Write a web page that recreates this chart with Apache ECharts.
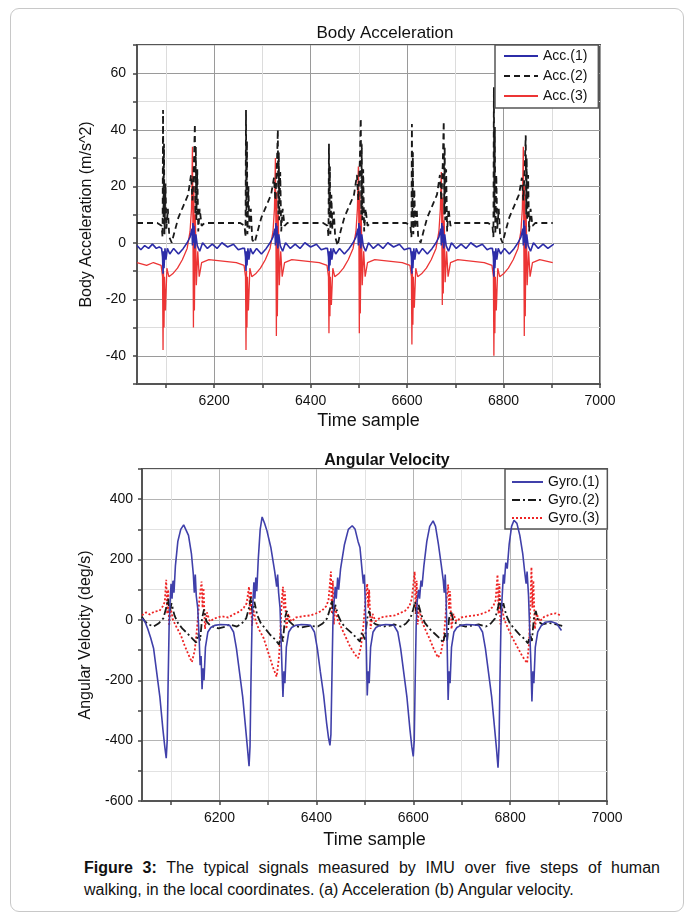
<!DOCTYPE html>
<html>
<head>
<meta charset="utf-8">
<script src="https://cdn.jsdelivr.net/npm/echarts@6/dist/echarts.min.js"></script>
<style>
  html, body { margin: 0; padding: 0; background: #fff; }
  body { width: 694px; height: 918px; position: relative; overflow: hidden; font-family: "Liberation Sans", Arial, sans-serif; }
  #frame { position: absolute; left: 10px; top: 8px; width: 672px; height: 902px; border: 1px solid #c8c8c8; border-radius: 9px; }
  #chart { position: absolute; left: 0; top: 0; width: 694px; height: 850px; }
  .cap { position: absolute; left: 84px; width: 576px; font-size: 16px; line-height: 22px; color: #111; }
  #cap1 { top: 857px; text-align: justify; text-align-last: justify; }
  #cap2 { top: 879px; }
</style>
</head>
<body>
<div id="frame"></div>
<div id="chart"></div>
<div class="cap" id="cap1"><b>Figure 3:</b> The typical signals measured by IMU over five steps of human</div>
<div class="cap" id="cap2">walking, in the local coordinates. (a) Acceleration (b) Angular velocity.</div>
<script>
// 横轴刻度
const xTickValues = [6100, 6200, 6300, 6400, 6500, 6600, 6700, 6800, 6900, 7000];
const xLabelValues = [6200, 6400, 6600, 6800, 7000];

// (a) 加速度 [样本, m/s^2]
const acc1 = [
  [6040,-1],[6048,-2.5],[6056,-1],[6064,-2],[6072,-0.5],[6080,-2],[6086,-1.5],[6091,-2],[6093,-5],[6094,-11],[6095,-3],[6096,-9],[6098,-2],[6100,-6],[6103,-2],[6108,-4],[6116,-2],[6126,-4],[6136,-2],[6144,0],[6150,2],[6154,5],[6155,-1],[6156,7],[6157,0],[6158,6],[6160,-2],[6162,3],[6165,-1],[6170,-3],[6176,0],[6186,-2],[6196,-0.5],[6206,-2],[6216,0],[6228,-1.5],[6240,-0.5],[6250,-2.5],
  [6258,-2],[6263,-2],[6265,-5],[6266,-10],[6267,-3],[6268,-8],[6270,-2],[6272,-6],[6275,-2],[6280,-4],[6288,-2],[6298,-4],[6308,-2],[6316,0],[6322,2],[6326,5],[6327,-1],[6328,7],[6329,0],[6330,6],[6332,-2],[6334,3],[6337,-1],[6342,-3],[6348,0],[6358,-2],[6368,-0.5],[6378,-2],[6388,0],[6400,-1.5],[6412,-0.5],[6422,-2.5],
  [6430,-2],[6435,-2],[6437,-5],[6438,-10],[6439,-3],[6440,-8],[6442,-2],[6444,-6],[6447,-2],[6452,-4],[6460,-2],[6470,-4],[6480,-2],[6488,0],[6494,2],[6498,5],[6499,-1],[6500,7],[6501,0],[6502,6],[6504,-2],[6506,3],[6509,-1],[6514,-3],[6520,0],[6530,-2],[6540,-0.5],[6550,-2],[6560,0],[6572,-1.5],[6584,-0.5],[6594,-2.5],
  [6602,-2],[6607,-2],[6609,-5],[6610,-11],[6611,-3],[6612,-9],[6614,-2],[6616,-6],[6619,-2],[6624,-4],[6632,-2],[6642,-4],[6652,-2],[6660,0],[6666,2],[6670,5],[6671,-1],[6672,7],[6673,0],[6674,6],[6676,-2],[6678,3],[6681,-1],[6686,-3],[6692,0],[6702,-2],[6712,-0.5],[6722,-2],[6732,0],[6744,-1.5],[6756,-0.5],[6766,-2.5],
  [6772,-2],[6777,-2],[6779,-5],[6780,-12],[6781,-3],[6782,-9],[6784,-2],[6786,-6],[6789,-2],[6794,-4],[6802,-2],[6812,-4],[6822,-2],[6830,0],[6836,2],[6840,5],[6841,-1],[6842,8],[6843,0],[6844,6],[6846,-2],[6848,3],[6851,-1],[6856,-3],[6862,0],[6872,-2],[6882,-0.5],[6892,-2],[6904,-0.5]
];
const acc2 = [
  [6040,7],[6082,7],[6091,6],[6093,2],[6094,47],[6095,9],[6096,35],[6097,3],[6099,21],[6101,5],[6104,12],[6107,2],[6112,0],[6118,4],[6126,9],[6136,13],[6146,17],[6152,24],[6155,15],[6158,28],[6160,42],[6161,10],[6162,34],[6163,8],[6165,26],[6167,4],[6170,12],[6174,6],[6180,7],
  [6254,7],[6263,6],[6265,2],[6266,47],[6267,9],[6268,36],[6269,3],[6271,20],[6273,5],[6276,12],[6279,1],[6284,0],[6290,4],[6298,9],[6308,13],[6318,17],[6324,23],[6327,15],[6330,27],[6332,40],[6333,10],[6334,32],[6335,8],[6337,25],[6339,4],[6342,12],[6346,6],[6352,7],
  [6426,7],[6435,6],[6437,2],[6438,35],[6439,9],[6440,27],[6441,3],[6443,17],[6445,5],[6448,11],[6451,2],[6456,-1],[6462,4],[6470,9],[6480,13],[6490,17],[6496,24],[6499,15],[6502,29],[6504,44],[6505,10],[6506,35],[6507,8],[6509,26],[6511,4],[6514,12],[6518,6],[6524,7],
  [6598,7],[6607,6],[6609,2],[6610,42],[6611,9],[6612,32],[6613,3],[6615,19],[6617,5],[6620,12],[6623,2],[6628,0],[6634,4],[6642,9],[6652,13],[6662,17],[6668,24],[6671,15],[6674,28],[6676,43],[6677,10],[6678,34],[6679,8],[6681,26],[6683,4],[6686,12],[6690,6],[6696,7],
  [6768,7],[6777,6],[6779,2],[6780,55],[6781,9],[6782,41],[6783,3],[6785,24],[6787,5],[6790,12],[6793,2],[6798,0],[6804,4],[6812,9],[6822,13],[6832,17],[6838,23],[6841,15],[6844,27],[6846,38],[6847,10],[6848,30],[6849,8],[6851,24],[6853,4],[6856,12],[6860,6],[6866,7],[6902,7]
];
const acc3 = [
  [6040,-7],[6060,-8],[6074,-7],[6090,-8],[6093,-12],[6094,-38],[6095,-10],[6096,-30],[6097,-12],[6099,-24],[6102,-9],[6106,-12],[6114,-11],[6124,-9],[6134,-6],[6144,-2],[6150,4],[6153,12],[6155,34],[6156,5],[6157,-30],[6158,20],[6159,-24],[6161,10],[6163,-15],[6166,-3],[6169,-12],[6174,-7],[6189,-6],
  [6246,-7],[6262,-8],[6265,-12],[6266,-38],[6267,-10],[6268,-30],[6269,-12],[6271,-24],[6274,-9],[6278,-12],[6286,-11],[6296,-9],[6306,-6],[6316,-2],[6322,4],[6325,12],[6327,30],[6328,5],[6329,-33],[6330,18],[6331,-26],[6333,10],[6335,-15],[6338,-3],[6341,-12],[6346,-7],[6361,-6],
  [6418,-7],[6434,-8],[6437,-12],[6438,-32],[6439,-10],[6440,-26],[6441,-12],[6443,-22],[6446,-9],[6450,-12],[6458,-11],[6468,-9],[6478,-6],[6488,-2],[6494,4],[6497,12],[6499,27],[6500,5],[6501,-32],[6502,18],[6503,-25],[6505,10],[6507,-15],[6510,-3],[6513,-12],[6518,-7],[6533,-6],
  [6590,-7],[6606,-8],[6609,-12],[6610,-36],[6611,-10],[6612,-29],[6613,-12],[6615,-23],[6618,-9],[6622,-12],[6630,-11],[6640,-9],[6650,-6],[6660,-2],[6666,4],[6669,12],[6671,25],[6672,5],[6673,-22],[6674,16],[6675,-18],[6677,8],[6679,-14],[6682,-3],[6685,-12],[6690,-7],[6705,-6],
  [6760,-7],[6776,-8],[6779,-12],[6780,-40],[6781,-10],[6782,-32],[6783,-12],[6785,-24],[6788,-9],[6792,-12],[6800,-11],[6810,-9],[6820,-6],[6830,-2],[6836,4],[6839,12],[6841,34],[6842,5],[6843,-33],[6844,20],[6845,-26],[6847,10],[6849,-15],[6852,-3],[6855,-12],[6860,-7],[6875,-6],[6902,-7]
];

// (b) 角速度 [样本, deg/s]
const gyro1 = [
  [6040,5],[6046,-5],[6052,-30],[6058,-60],[6064,-95],[6070,-170],[6077,-257],[6083,-360],[6087,-420],[6090,-458],[6092,-400],[6094,-200],[6096,-20],[6098,60],[6100,120],[6102,70],[6104,130],[6106,90],[6109,180],[6114,260],[6120,300],[6126,315],[6130,310],[6136,280],[6142,220],[6146,150],[6148,90],[6150,150],[6152,80],[6155,40],[6158,-60],[6160,-150],[6162,-120],[6164,-230],[6166,-160],[6168,-200],[6171,-90],[6176,-40],[6182,-25],[6190,-18],[6202,-15],[6214,-16],
  [6221,-18],[6229,-40],[6235,-95],[6241,-170],[6248,-257],[6254,-360],[6258,-430],[6261,-485],[6263,-420],[6265,-200],[6267,-20],[6269,60],[6271,125],[6273,70],[6275,140],[6277,95],[6280,200],[6284,300],[6288,341],[6293,320],[6298,295],[6306,240],[6314,160],[6318,110],[6320,150],[6322,90],[6325,40],[6327,-60],[6329,-160],[6331,-255],[6333,-170],[6335,-210],[6338,-90],[6343,-40],[6349,-25],[6357,-18],[6369,-15],[6381,-16],
  [6388,-18],[6396,-40],[6402,-95],[6408,-170],[6415,-250],[6421,-340],[6425,-390],[6428,-416],[6430,-380],[6432,-200],[6434,-20],[6436,50],[6439,110],[6441,70],[6444,140],[6446,100],[6450,170],[6458,250],[6466,300],[6474,312],[6480,300],[6486,260],[6490,240],[6494,170],[6497,120],[6499,150],[6501,60],[6503,-80],[6505,-250],[6507,-170],[6509,-210],[6512,-90],[6517,-40],[6523,-25],[6531,-18],[6543,-15],[6555,-16],
  [6560,-18],[6568,-40],[6574,-95],[6580,-170],[6587,-257],[6593,-360],[6597,-420],[6600,-452],[6602,-400],[6604,-200],[6606,-20],[6608,60],[6611,100],[6613,70],[6616,130],[6618,110],[6622,180],[6628,260],[6634,310],[6641,328],[6646,310],[6652,250],[6658,180],[6662,130],[6664,90],[6666,150],[6668,60],[6670,-80],[6672,-265],[6674,-170],[6676,-210],[6679,-90],[6684,-40],[6690,-25],[6698,-18],[6710,-15],[6722,-16],
  [6735,-18],[6743,-40],[6749,-95],[6755,-170],[6762,-257],[6768,-360],[6772,-430],[6775,-490],[6777,-420],[6779,-200],[6781,-20],[6783,60],[6786,150],[6788,120],[6791,190],[6794,170],[6798,250],[6803,310],[6808,330],[6814,320],[6820,280],[6826,220],[6830,160],[6833,120],[6835,160],[6838,80],[6841,-60],[6843,-150],[6845,-270],[6847,-170],[6849,-210],[6852,-90],[6857,-40],[6864,-20],[6872,-8],[6884,-5],[6896,-12],[6906,-35]
];
const gyro2 = [
  [6040,10],[6046,-5],[6054,-15],[6064,-22],[6074,-12],[6084,5],[6090,40],[6094,70],[6097,25],[6101,55],[6107,15],[6114,-10],[6124,-30],[6134,-45],[6144,-62],[6152,-75],[6156,-45],[6160,-68],[6164,5],[6168,35],[6173,-5],[6182,-20],[6198,-28],[6214,-22],
  [6221,-15],[6236,-22],[6246,-12],[6255,5],[6261,40],[6265,75],[6268,25],[6272,60],[6278,15],[6285,-10],[6295,-30],[6305,-50],[6315,-65],[6323,-82],[6327,-45],[6331,-72],[6335,5],[6339,30],[6344,-5],[6353,-18],[6369,-25],[6385,-20],
  [6388,-15],[6403,-22],[6413,-12],[6422,5],[6428,35],[6432,65],[6435,20],[6439,50],[6445,15],[6452,-10],[6462,-28],[6472,-42],[6482,-58],[6490,-72],[6494,-40],[6500,-65],[6505,5],[6509,30],[6514,-5],[6523,-15],[6539,-22],[6555,-18],
  [6560,-15],[6575,-22],[6585,-12],[6594,5],[6600,35],[6604,60],[6607,20],[6611,50],[6617,15],[6624,-10],[6634,-30],[6644,-45],[6654,-60],[6662,-75],[6666,-42],[6670,-68],[6674,5],[6678,30],[6683,-5],[6692,-15],[6708,-22],[6724,-18],
  [6735,-15],[6750,-22],[6760,-12],[6769,5],[6775,40],[6779,70],[6782,25],[6786,55],[6792,15],[6799,-10],[6809,-30],[6819,-48],[6829,-62],[6837,-78],[6841,-45],[6845,-70],[6849,5],[6853,30],[6858,-5],[6867,-15],[6880,-10],[6895,-15],[6908,-20]
];
const gyro3 = [
  [6040,15],[6048,25],[6056,18],[6066,28],[6076,30],[6083,45],[6087,60],[6090,133],[6092,20],[6094,100],[6096,-20],[6099,40],[6104,0],[6110,-20],[6120,-50],[6128,-85],[6136,-115],[6143,-140],[6149,-100],[6154,-20],[6158,60],[6163,127],[6165,40],[6167,105],[6170,-30],[6174,25],[6180,-5],[6190,5],[6204,12],[6218,8],
  [6231,20],[6242,28],[6250,40],[6256,55],[6261,110],[6263,15],[6265,95],[6267,-20],[6270,35],[6275,-5],[6281,-30],[6291,-60],[6301,-110],[6311,-160],[6318,-188],[6323,-120],[6326,-30],[6328,50],[6331,110],[6333,35],[6335,95],[6338,-30],[6342,20],[6348,-5],[6358,8],[6372,12],[6388,15],
  [6400,22],[6411,30],[6420,45],[6425,65],[6430,160],[6432,20],[6434,130],[6436,-15],[6439,40],[6444,0],[6450,-20],[6460,-55],[6470,-90],[6480,-115],[6486,-127],[6492,-90],[6497,-20],[6501,60],[6505,120],[6507,40],[6509,100],[6512,-30],[6516,20],[6522,-5],[6532,8],[6546,12],[6562,15],
  [6572,22],[6583,30],[6592,45],[6597,70],[6603,160],[6605,20],[6607,130],[6609,-15],[6612,40],[6617,0],[6623,-25],[6633,-60],[6642,-95],[6651,-125],[6657,-110],[6663,-60],[6667,20],[6669,70],[6672,117],[6674,35],[6676,95],[6679,-30],[6683,20],[6689,-5],[6699,8],[6713,12],[6729,15],
  [6745,22],[6756,30],[6765,45],[6770,65],[6774,150],[6776,20],[6778,120],[6780,-15],[6783,40],[6788,0],[6795,-25],[6805,-60],[6815,-90],[6825,-120],[6835,-143],[6839,-80],[6842,60],[6844,175],[6846,40],[6848,130],[6851,-30],[6855,20],[6861,-5],[6870,10],[6882,18],[6894,22],[6904,15]
];

const FONT = '"Liberation Sans", Arial, sans-serif';
const chart = echarts.init(document.getElementById('chart'));

// x 轴网格跟随刻度 6100..7000: 次网格(100) 浅, 主网格(200) 深
function xAxis(gridIndex, gap, gridColors) {
    return {
        type: 'value', gridIndex: gridIndex, min: 6040, max: 7000, interval: 20,
        name: 'Time sample', nameLocation: 'middle', nameGap: gap,
        nameTextStyle: { fontFamily: FONT, fontSize: 18, color: '#111' },
        axisLine: { show: true, onZero: false, lineStyle: { color: '#555', width: 2 } },
        axisTick: { show: true, customValues: xTickValues, length: 4, lineStyle: { color: '#444', width: 1.5 } },
        axisLabel: { customValues: xLabelValues, margin: 10, fontFamily: FONT, fontSize: 14, color: '#111',
                     formatter: v => String(v) },
        splitLine: { show: true, lineStyle: { color: gridColors, width: 1 } }
    };
}

const option = {
    animation: false,
    title: [
        { text: 'Body Acceleration', left: 380, top: 20, textAlign: 'center',
          textStyle: { fontFamily: FONT, fontSize: 17, fontWeight: 'normal', color: '#111' } },
        { text: 'Angular Velocity', left: 382, top: 448, textAlign: 'center',
          textStyle: { fontFamily: FONT, fontSize: 16, fontWeight: 'bold', color: '#111' } }
    ],
    grid: [
        { left: 137, top: 45, width: 463, height: 339, show: true, borderColor: '#555', borderWidth: 2 },
        { left: 142, top: 469, width: 465, height: 341, show: true, borderColor: '#555', borderWidth: 2 }
    ],
    legend: [
        { data: ['Acc.(1)', 'Acc.(2)', 'Acc.(3)'], orient: 'vertical', left: 495, top: 45,
          padding: [4, 11, 5, 8], itemGap: 6, itemWidth: 34, itemHeight: 12,
          itemStyle: { opacity: 0 },
          backgroundColor: '#fff', borderColor: '#555', borderWidth: 1.5,
          textStyle: { fontFamily: FONT, fontSize: 14, color: '#111' } },
        { data: ['Gyro.(1)', 'Gyro.(2)', 'Gyro.(3)'], orient: 'vertical', left: 505, top: 469,
          padding: [6, 8, 4, 6], itemGap: 4, itemWidth: 31, itemHeight: 12,
          itemStyle: { opacity: 0 },
          backgroundColor: '#fff', borderColor: '#555', borderWidth: 1.5,
          textStyle: { fontFamily: FONT, fontSize: 14, color: '#111' } }
    ],
    xAxis: [
        xAxis(0, 28, ['#dcdcdc', '#9a9a9a']),
        xAxis(1, 30, ['#e2e2e2', '#b4b4b4'])
    ],
    yAxis: [
        {
            type: 'value', gridIndex: 0, min: -50, max: 70, interval: 10,
            name: 'Body Acceleration (m/s^2)', nameLocation: 'middle', nameGap: 37,
            nameTextStyle: { fontFamily: FONT, fontSize: 16, color: '#111' },
            axisLine: { show: true, onZero: false, lineStyle: { color: '#555', width: 2 } },
            axisTick: { show: true, length: 4, lineStyle: { color: '#444', width: 1.5 } },
            axisLabel: { margin: 11, fontFamily: FONT, fontSize: 14, color: '#111',
                         formatter: v => (v % 20 === 0 ? String(v) : '') },
            splitLine: { show: true, lineStyle: { color: ['#dcdcdc', '#9a9a9a'], width: 1 } }
        },
        {
            type: 'value', gridIndex: 1, min: -600, max: 500, interval: 100,
            name: 'Angular Velocity (deg/s)', nameLocation: 'middle', nameGap: 42,
            nameTextStyle: { fontFamily: FONT, fontSize: 16, color: '#111' },
            axisLine: { show: true, onZero: false, lineStyle: { color: '#555', width: 2 } },
            axisTick: { show: true, length: 4, lineStyle: { color: '#444', width: 1.5 } },
            axisLabel: { margin: 9, fontFamily: FONT, fontSize: 14, color: '#111',
                         formatter: v => (v % 200 === 0 ? String(v) : '') },
            splitLine: { show: true, lineStyle: { color: ['#b4b4b4', '#e2e2e2'], width: 1 } }
        }
    ],
    series: [
        { name: 'Acc.(1)', type: 'line', xAxisIndex: 0, yAxisIndex: 0, data: acc1,
          showSymbol: false, symbol: 'none', color: '#2c2ca8', lineStyle: { width: 1.6, color: '#2c2ca8' }, z: 4 },
        { name: 'Acc.(2)', type: 'line', xAxisIndex: 0, yAxisIndex: 0, data: acc2,
          showSymbol: false, symbol: 'none', color: '#1a1a1a', lineStyle: { width: 1.8, color: '#1a1a1a', type: [6, 4] }, z: 3 },
        { name: 'Acc.(3)', type: 'line', xAxisIndex: 0, yAxisIndex: 0, data: acc3,
          showSymbol: false, symbol: 'none', color: '#ec3535', lineStyle: { width: 1.3, color: '#ec3535' }, z: 2 },
        { name: 'Gyro.(1)', type: 'line', xAxisIndex: 1, yAxisIndex: 1, data: gyro1,
          showSymbol: false, symbol: 'none', color: '#4040aa', lineStyle: { width: 1.6, color: '#4040aa' }, z: 4 },
        { name: 'Gyro.(2)', type: 'line', xAxisIndex: 1, yAxisIndex: 1, data: gyro2,
          showSymbol: false, symbol: 'none', color: '#1a1a1a', lineStyle: { width: 1.8, color: '#1a1a1a', type: [8, 3, 2, 3] }, z: 3 },
        { name: 'Gyro.(3)', type: 'line', xAxisIndex: 1, yAxisIndex: 1, data: gyro3,
          showSymbol: false, symbol: 'none', color: '#ee2424', lineStyle: { width: 1.8, color: '#ee2424', type: [2, 2] }, z: 2 }
    ]
};

chart.setOption(option);
window.addEventListener('resize', () => chart.resize());
</script>
</body>
</html>
